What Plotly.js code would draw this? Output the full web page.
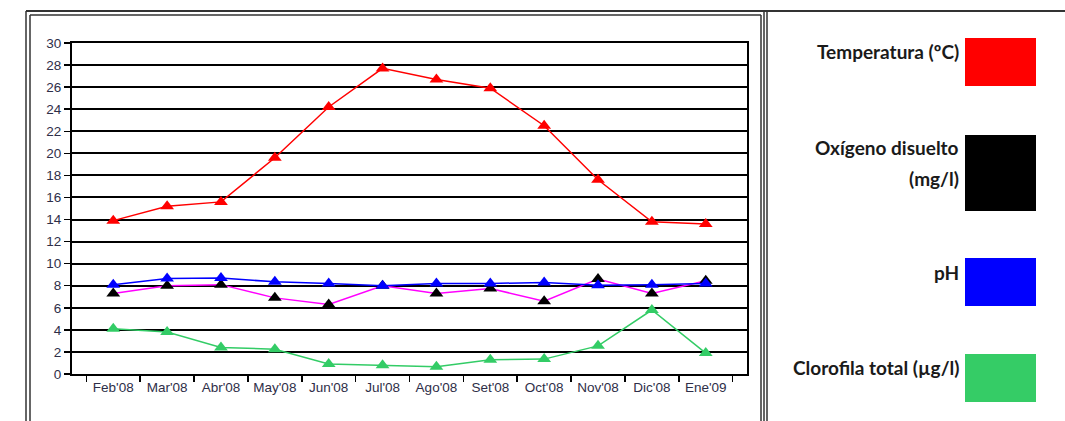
<!DOCTYPE html>
<html>
<head>
<meta charset="utf-8">
<script src="https://cdn.plot.ly/plotly-3.0.1.min.js"></script>
<style>html,body{margin:0;padding:0;background:#fff;}#chart{width:1065px;height:421px;}</style>
</head>
<body>
<div id="chart"></div>
<script>
const months = ["Feb'08","Mar'08","Abr'08","May'08","Jun'08","Jul'08","Ago'08","Set'08","Oct'08","Nov'08","Dic'08","Ene'09"];
const temperatura = [13.9, 15.2, 15.6, 19.6, 24.2, 27.7, 26.7, 25.9, 22.5, 17.6, 13.8, 13.6];
const oxigeno = [7.3, 8.0, 8.1, 6.9, 6.3, 8.0, 7.3, 7.75, 6.6, 8.6, 7.3, 8.45];
const ph = [8.1, 8.65, 8.7, 8.35, 8.2, 8.0, 8.2, 8.2, 8.3, 8.05, 8.1, 8.2];
const clorofila = [4.1, 3.8, 2.4, 2.25, 0.9, 0.8, 0.65, 1.3, 1.35, 2.55, 5.8, 1.9];
const seriesNames = ["Temperatura (ºC)", "Oxígeno disuelto", "pH", "Clorofila total (µg/l)"];

// plot area in pixels: x 72..747, y 43..374
const L = 72, R = 747, T = 43, B = 374;
const px = x => (x - L) / (R - L);
const py = y => (B - y) / (B - T);

function tr(y, lineColor, markerColor, name) {
  return {
    type: 'scatter', mode: 'lines+markers', x: months, y: y, name: name,
    line: {color: lineColor, width: 1.5},
    marker: {symbol: 'triangle-up', size: 12, color: markerColor},
    cliponaxis: false
  };
}

const data = [
  tr(temperatura, '#ff0000', '#ff0000', 'Temperatura'),
  tr(oxigeno, '#ff00ff', '#000000', 'Oxígeno'),
  tr(ph, '#0000ff', '#0000ff', 'pH'),
  tr(clorofila, '#33cc66', '#33cc66', 'Clorofila')
];

const frame = '#333333';
function seg(x0, y0, x1, y1, w) {
  return {type: 'line', xref: 'paper', yref: 'paper', x0: px(x0), y0: py(y0), x1: px(x1), y1: py(y1),
          line: {color: frame, width: w || 1.5}};
}
const shapes = [
  seg(26, 11, 1065, 11, 2),
  seg(26, 11, 26, 421),
  seg(30, 15, 761, 15),
  seg(30, 15, 30, 421),
  seg(761, 15, 761, 421),
  seg(764, 11, 764, 421),
  seg(767, 11, 767, 421),
];
const swColors = ['#ff0000', '#000000', '#0000ff', '#35cc66'];
const swY = [[38, 86], [135, 211], [258, 306], [354, 402]];
swColors.forEach((c, i) => {
  shapes.push({type: 'rect', xref: 'paper', yref: 'paper', x0: px(965), x1: px(1036),
    y0: py(swY[i][1]), y1: py(swY[i][0]), fillcolor: c, line: {width: 0}});
});

const legFont = {family: 'Lato, "Open Sans", sans-serif', size: 19, color: '#1a1a1a'};
const labY = [51, 147, 272, 367];
const annotations = seriesNames.map((t, i) => ({
  xref: 'paper', yref: 'paper', x: px(961), y: py(labY[i]), xanchor: 'right', yanchor: 'middle',
  text: '<b>' + t + '</b>', showarrow: false, align: 'right', font: legFont
}));
annotations.push({
  xref: 'paper', yref: 'paper', x: px(961), y: py(178), xanchor: 'right', yanchor: 'middle',
  text: '<b>(mg/l)</b>', showarrow: false, align: 'right', font: legFont
});

const layout = {
  width: 1065, height: 421,
  margin: {l: L, r: 1065 - R, t: T, b: 421 - B, pad: 0},
  paper_bgcolor: '#ffffff', plot_bgcolor: '#ffffff',
  showlegend: false,
  font: {family: '"Liberation Sans", Arial, sans-serif', size: 13, color: '#2e2e48'},
  xaxis: {
    type: 'category', tickson: 'boundaries', ticks: 'outside', ticklen: 6, tickwidth: 1.5, tickcolor: '#000',
    showgrid: false, showline: true, linecolor: '#000', linewidth: 2, mirror: true,
    tickfont: {size: 13.5, color: '#2e2e48'}, fixedrange: true, zeroline: false
  },
  yaxis: {
    range: [0, 30], dtick: 2, tick0: 0, ticks: 'outside', ticklen: 6, tickwidth: 1.5, tickcolor: '#000',
    showgrid: true, gridcolor: '#000', gridwidth: 2, showline: true, linecolor: '#000', linewidth: 2, mirror: true,
    zeroline: false, tickfont: {size: 13.5, color: '#2e2e48'}, fixedrange: true
  },
  shapes: shapes,
  annotations: annotations
};

Plotly.newPlot('chart', data, layout, {staticPlot: true, displayModeBar: false});
</script>
</body>
</html>
